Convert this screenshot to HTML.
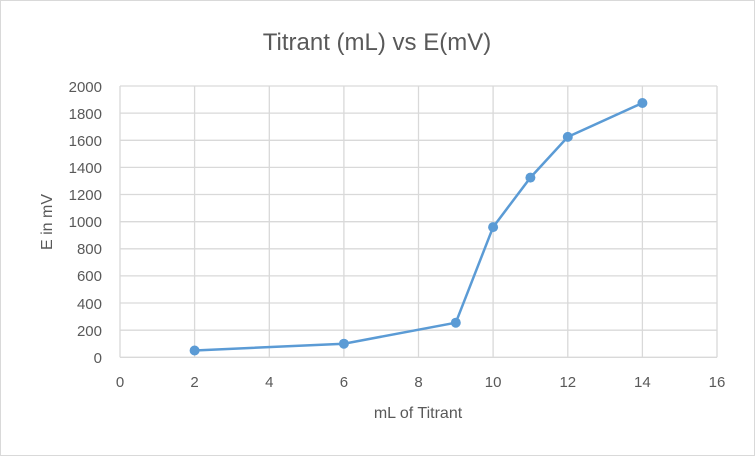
<!DOCTYPE html><html><head><style>body{margin:0;background:#fff}svg{display:block}text{font-family:"Liberation Sans",sans-serif;fill:#595959}</style></head><body>
<svg width="755" height="456" xmlns="http://www.w3.org/2000/svg">
<rect x="0.5" y="0.5" width="754" height="455" fill="#fff" stroke="#d9d9d9"/>
<text x="377" y="50" font-size="24" text-anchor="middle">Titrant (mL) vs E(mV)</text>
<g stroke="#d9d9d9" stroke-width="1.3">
<line x1="120" y1="86" x2="717" y2="86"/><line x1="120" y1="113.1" x2="717" y2="113.1"/><line x1="120" y1="140.3" x2="717" y2="140.3"/><line x1="120" y1="167.4" x2="717" y2="167.4"/><line x1="120" y1="194.5" x2="717" y2="194.5"/><line x1="120" y1="221.7" x2="717" y2="221.7"/><line x1="120" y1="248.8" x2="717" y2="248.8"/><line x1="120" y1="275.9" x2="717" y2="275.9"/><line x1="120" y1="303" x2="717" y2="303"/><line x1="120" y1="330.2" x2="717" y2="330.2"/>
<line x1="194.6" y1="86" x2="194.6" y2="357.3"/><line x1="269.3" y1="86" x2="269.3" y2="357.3"/><line x1="343.9" y1="86" x2="343.9" y2="357.3"/><line x1="418.5" y1="86" x2="418.5" y2="357.3"/><line x1="493.1" y1="86" x2="493.1" y2="357.3"/><line x1="567.8" y1="86" x2="567.8" y2="357.3"/><line x1="642.4" y1="86" x2="642.4" y2="357.3"/><line x1="717" y1="86" x2="717" y2="357.3"/>
<line x1="120" y1="86" x2="120" y2="357.3"/><line x1="120" y1="357.3" x2="717" y2="357.3"/>
</g>
<g font-size="15" text-anchor="end">
<text x="102" y="92">2000</text><text x="102" y="119">1800</text><text x="102" y="146">1600</text><text x="102" y="173">1400</text><text x="102" y="200">1200</text><text x="102" y="227">1000</text><text x="102" y="254">800</text><text x="102" y="281">600</text><text x="102" y="309">400</text><text x="102" y="336">200</text><text x="102" y="363">0</text>
</g>
<g font-size="15" text-anchor="middle">
<text x="120" y="387">0</text><text x="194.6" y="387">2</text><text x="269.3" y="387">4</text><text x="343.9" y="387">6</text><text x="418.5" y="387">8</text><text x="493.1" y="387">10</text><text x="567.8" y="387">12</text><text x="642.4" y="387">14</text><text x="717" y="387">16</text>
</g>
<text x="418" y="418" font-size="16" text-anchor="middle">mL of Titrant</text>
<text transform="translate(52,222) rotate(-90)" font-size="16" text-anchor="middle">E in mV</text>
<polyline fill="none" stroke="#5b9bd5" stroke-width="2.5" points="194.6,350.5 343.9,343.7 455.8,322.7 493.1,227.1 530.4,177.6 567.8,136.9 642.4,103"/>
<g fill="#5b9bd5"><circle cx="194.6" cy="350.5" r="5"/><circle cx="343.9" cy="343.7" r="5"/><circle cx="455.8" cy="322.7" r="5"/><circle cx="493.1" cy="227.1" r="5"/><circle cx="530.4" cy="177.6" r="5"/><circle cx="567.8" cy="136.9" r="5"/><circle cx="642.4" cy="103" r="5"/></g>
</svg></body></html>
